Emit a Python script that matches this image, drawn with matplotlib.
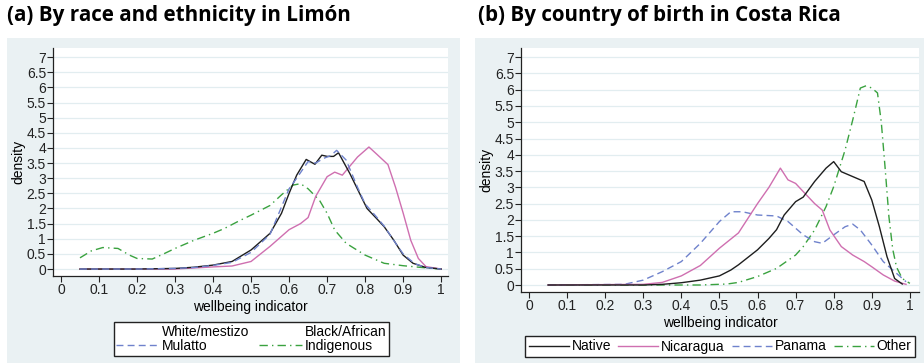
import matplotlib
matplotlib.use('Agg')
import matplotlib.pyplot as plt
from matplotlib.lines import Line2D
from matplotlib.patches import Rectangle

plt.rcParams['font.family'] = ['Liberation Sans', 'DejaVu Sans']

# (a) race / ethnicity in Limon
wm_x = [0.05, 0.20, 0.30, 0.35, 0.40, 0.45, 0.50, 0.55, 0.58, 0.60, 0.62, 0.645, 0.668, 0.686,
        0.70, 0.717, 0.73, 0.76, 0.79, 0.805, 0.83, 0.85, 0.875, 0.90, 0.926, 0.96, 1.00]
wm_y = [0.0, 0.0, 0.02, 0.06, 0.13, 0.25, 0.63, 1.18, 1.84, 2.5, 3.1, 3.62, 3.46, 3.76,
        3.72, 3.72, 3.84, 3.15, 2.38, 2.0, 1.67, 1.4, 0.96, 0.46, 0.19, 0.05, 0.0]

mu_x = [0.05, 0.20, 0.30, 0.35, 0.40, 0.45, 0.50, 0.55, 0.57, 0.60, 0.62, 0.65, 0.67, 0.69,
        0.71, 0.725, 0.75, 0.78, 0.80, 0.83, 0.85, 0.875, 0.90, 0.93, 0.96, 1.00]
mu_y = [0.0, 0.0, 0.02, 0.05, 0.12, 0.22, 0.55, 1.15, 1.75, 2.65, 3.0, 3.55, 3.5, 3.65,
        3.75, 3.92, 3.6, 2.7, 2.15, 1.72, 1.42, 0.95, 0.5, 0.18, 0.05, 0.0]

ba_x = [0.05, 0.30, 0.40, 0.45, 0.50, 0.55, 0.60, 0.63, 0.65, 0.67, 0.70, 0.72, 0.74, 0.76,
        0.78, 0.81, 0.83, 0.86, 0.88, 0.90, 0.92, 0.94, 0.96, 1.00]
ba_y = [0.0, 0.0, 0.07, 0.1, 0.25, 0.75, 1.3, 1.5, 1.7, 2.4, 3.05, 3.2, 3.1, 3.4,
        3.7, 4.03, 3.8, 3.45, 2.7, 1.85, 0.95, 0.35, 0.08, 0.0]

ind_x = [0.05, 0.08, 0.11, 0.15, 0.18, 0.20, 0.24, 0.27, 0.30, 0.35, 0.40, 0.43, 0.47, 0.50,
         0.55, 0.58, 0.61, 0.63, 0.65, 0.68, 0.70, 0.72, 0.75, 0.80, 0.85, 0.90, 0.95, 1.00]
ind_y = [0.37, 0.6, 0.71, 0.68, 0.46, 0.35, 0.33, 0.5, 0.68, 0.95, 1.18, 1.34, 1.6, 1.78,
         2.1, 2.45, 2.77, 2.82, 2.65, 2.27, 1.84, 1.29, 0.85, 0.46, 0.19, 0.11, 0.05, 0.0]

# (b) country of birth in Costa Rica
nat_x = [0.05, 0.30, 0.35, 0.40, 0.45, 0.50, 0.53, 0.55, 0.60, 0.63, 0.65, 0.67, 0.70, 0.72,
         0.75, 0.78, 0.80, 0.82, 0.85, 0.88, 0.90, 0.92, 0.94, 0.96, 0.98]
nat_y = [0.0, 0.0, 0.02, 0.07, 0.15, 0.28, 0.46, 0.62, 1.08, 1.43, 1.7, 2.15, 2.56, 2.7,
         3.18, 3.59, 3.79, 3.48, 3.33, 3.18, 2.61, 1.79, 0.87, 0.2, 0.03]

nic_x = [0.05, 0.30, 0.35, 0.40, 0.45, 0.50, 0.55, 0.60, 0.63, 0.66, 0.68, 0.70, 0.72, 0.75,
         0.77, 0.79, 0.82, 0.85, 0.88, 0.90, 0.93, 0.96, 0.99]
nic_y = [0.0, 0.02, 0.08, 0.28, 0.6, 1.13, 1.6, 2.5, 3.0, 3.59, 3.23, 3.12, 2.87, 2.5,
         2.3, 1.69, 1.18, 0.92, 0.72, 0.56, 0.31, 0.12, 0.02]

pan_x = [0.05, 0.25, 0.30, 0.35, 0.40, 0.45, 0.50, 0.53, 0.56, 0.60, 0.65, 0.68, 0.72, 0.75,
         0.77, 0.80, 0.83, 0.85, 0.87, 0.90, 0.93, 0.96, 0.99]
pan_y = [0.0, 0.02, 0.15, 0.41, 0.72, 1.28, 1.95, 2.25, 2.25, 2.15, 2.12, 1.95, 1.54, 1.33,
         1.28, 1.54, 1.79, 1.87, 1.69, 1.23, 0.72, 0.41, 0.1]

oth_x = [0.05, 0.30, 0.45, 0.52, 0.55, 0.60, 0.65, 0.70, 0.72, 0.75, 0.78, 0.80, 0.83, 0.85,
         0.87, 0.885, 0.90, 0.915, 0.925, 0.935, 0.945, 0.955, 0.965, 0.98, 1.00]
oth_y = [0.0, 0.0, 0.0, 0.03, 0.08, 0.26, 0.51, 0.92, 1.18, 1.69, 2.41, 3.02, 4.15, 5.07,
         6.05, 6.12, 6.05, 5.9, 5.0, 3.6, 2.1, 1.1, 0.55, 0.2, 0.05]

xticks = [0, 0.1, 0.2, 0.3, 0.4, 0.5, 0.6, 0.7, 0.8, 0.9, 1]
yticks = [0, 0.5, 1, 1.5, 2, 2.5, 3, 3.5, 4, 4.5, 5, 5.5, 6, 6.5, 7]

c_black = '#1e1e1e'
c_pink = '#cf6fb0'
c_blue = '#6f82cc'
c_green = '#3aa23f'
bg = '#eaf1f3'
W, H = 924, 363

fig = plt.figure(figsize=(9.24, 3.63), dpi=100)
fig.patch.set_facecolor('white')

# panel backgrounds (behind the axes)
fig.patches.append(Rectangle((7 / W, 0), 453 / W, 1 - 38 / H, transform=fig.transFigure,
                             facecolor=bg, edgecolor='none', zorder=-10))
fig.patches.append(Rectangle((475 / W, 0), 449 / W, 1 - 38 / H, transform=fig.transFigure,
                             facecolor=bg, edgecolor='none', zorder=-10))

fig.text(7 / W, 1 - 16 / H, '(a) By race and ethnicity in Limón', fontsize=14.9,
         fontweight='bold', family=['Open Sans', 'DejaVu Sans'], va='center', ha='left')
fig.text(478 / W, 1 - 16 / H, '(b) By country of birth in Costa Rica', fontsize=14.9,
         fontweight='bold', family=['Open Sans', 'DejaVu Sans'], va='center', ha='left')

axA = fig.add_axes([53 / W, 1 - 276 / H, 395 / W, 228 / H])
axB = fig.add_axes([521 / W, 1 - 292 / H, 398 / W, 244 / H])


def style(ax, ylo, yhi, xlo, xhi):
    ax.set_facecolor('white')
    ax.set_xlim(xlo, xhi)
    ax.set_ylim(ylo, yhi)
    ax.set_xticks(xticks)
    ax.set_xticklabels([f'{t:g}' for t in xticks])
    ax.set_yticks(yticks)
    ax.set_yticklabels([f'{t:g}' for t in yticks])
    for s in ['top', 'right']:
        ax.spines[s].set_visible(False)
    for s in ['left', 'bottom']:
        ax.spines[s].set_color('#222222')
        ax.spines[s].set_linewidth(0.9)
    ax.tick_params(axis='both', labelsize=10, colors='#222222', length=4, width=0.8, pad=1)
    ax.grid(axis='y', color='#e2edf0', lw=0.9)
    ax.set_axisbelow(True)
    ax.set_ylabel('density', fontsize=10, labelpad=1)
    ax.set_xlabel('wellbeing indicator', fontsize=10, labelpad=2)


style(axA, -0.23, 7.3, -0.021, 1.018)
style(axB, -0.215, 7.28, -0.021, 1.024)

lw = 1.0
axA.plot(ind_x, ind_y, color=c_green, lw=lw, dashes=(6, 3, 1, 3))
axA.plot(ba_x, ba_y, color=c_pink, lw=lw)
axA.plot(wm_x, wm_y, color=c_black, lw=lw)
axA.plot(mu_x, mu_y, color=c_blue, lw=lw, dashes=(5, 3))

axB.plot(oth_x, oth_y, color=c_green, lw=lw, dashes=(6, 3, 1, 3))
axB.plot(pan_x, pan_y, color=c_blue, lw=lw, dashes=(5, 3))
axB.plot(nic_x, nic_y, color=c_pink, lw=lw)
axB.plot(nat_x, nat_y, color=c_black, lw=lw)

# legend (a): first two entries show no line sample
hA = [Line2D([], [], color='none'),
      Line2D([], [], color=c_blue, lw=lw, dashes=(5, 3)),
      Line2D([], [], color='none'),
      Line2D([], [], color=c_green, lw=lw, dashes=(6, 3, 1, 3))]
lA = ['White/mestizo', 'Mulatto', 'Black/African', 'Indigenous']
legA = fig.legend(hA, lA, ncol=2, loc='center', bbox_to_anchor=(251.5 / W, 1 - 339 / H),
                  fontsize=10, frameon=True, fancybox=False, handlelength=3.1,
                  handletextpad=0.2, columnspacing=0.7, labelspacing=0.05, borderpad=0.2,
                  borderaxespad=0, framealpha=1)
legA.get_frame().set_edgecolor('#222222')
legA.get_frame().set_linewidth(1.0)

hB = [Line2D([], [], color=c_black, lw=lw),
      Line2D([], [], color=c_pink, lw=lw),
      Line2D([], [], color=c_blue, lw=lw, dashes=(5, 3)),
      Line2D([], [], color=c_green, lw=lw, dashes=(6, 3, 1, 3))]
lB = ['Native', 'Nicaragua', 'Panama', 'Other']
legB = fig.legend(hB, lB, ncol=4, loc='center', bbox_to_anchor=(720 / W, 1 - 346.5 / H),
                  fontsize=10, frameon=True, fancybox=False, handlelength=2.9,
                  handletextpad=0.2, columnspacing=0.5, borderpad=0.25, borderaxespad=0,
                  framealpha=1)
legB.get_frame().set_edgecolor('#222222')
legB.get_frame().set_linewidth(1.0)

plt.savefig('out.png', dpi=100, facecolor='white')
